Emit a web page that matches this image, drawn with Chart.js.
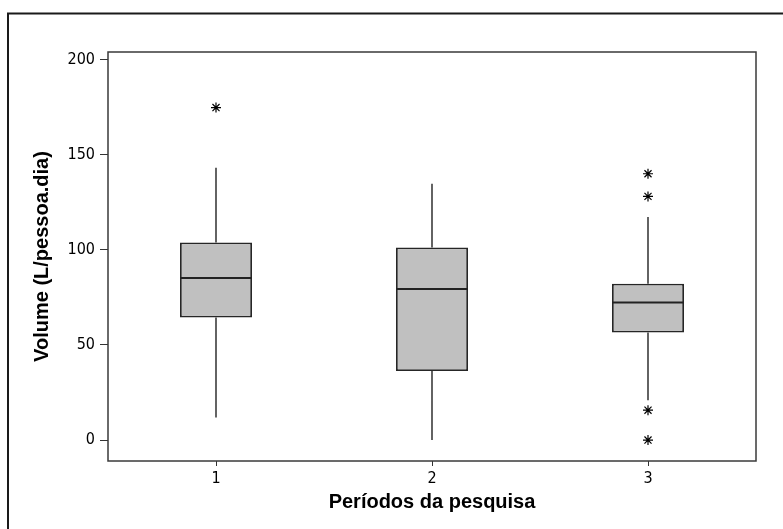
<!DOCTYPE html>
<html>
<head>
<meta charset="utf-8">
<script src="https://cdn.jsdelivr.net/npm/chart.js@4.4.0/dist/chart.umd.min.js"></script>
<style>
	body { margin: 0; background: #fff; }
	#wrap { width: 783px; height: 529px; position: relative; }
</style>
</head>
<body>
<div id="wrap"><canvas id="boxChart"></canvas></div>
<script>
// Volume por período: quartis, bigodes e pontos atípicos
const periods = [1, 2, 3];
const q1 = [64.4, 36.3, 56.5];
const median = [85.2, 79.4, 72.3];
const q3 = [103.9, 101.2, 82.2];
const whiskerLow = [11.9, 0, 21.0];
const whiskerHigh = [143.2, 134.8, 117.2];
const outliers = [[174.8], [], [140.0, 128.1, 15.7, 0]];
const yTicks = [0, 50, 100, 150, 200];

const boxHalf = 1 / 6;
const tickFont = { family: "'DejaVu Sans Condensed', 'Liberation Sans', sans-serif", size: 16 };
const titleFont = { family: "'Liberation Sans', Arial, sans-serif", size: 20, weight: 'bold' };

const whiskerPts = [];
const medianPts = [];
periods.forEach((p, i) => {
	whiskerPts.push({ x: p, y: q3[i] }, { x: p, y: whiskerHigh[i] }, { x: p, y: null });
	whiskerPts.push({ x: p, y: whiskerLow[i] }, { x: p, y: q1[i] }, { x: p, y: null });
	medianPts.push({ x: p - boxHalf, y: median[i] }, { x: p + boxHalf, y: median[i] }, { x: p, y: null });
});
const outlierPts = [];
outliers.forEach((list, i) => list.forEach(v => outlierPts.push({ x: periods[i], y: v })));

// moldura externa e contorno da área do gráfico
const frames = {
	id: 'frames',
	beforeDraw(chart) {
		const c = chart.ctx;
		c.save();
		c.strokeStyle = '#1a1a1a';
		c.lineWidth = 2;
		c.strokeRect(8, 13.5, chart.width + 20, chart.height + 20);
		c.restore();
	},
	afterDraw(chart) {
		const a = chart.chartArea;
		const c = chart.ctx;
		c.save();
		c.strokeStyle = '#3a3a3a';
		c.lineWidth = 1.5;
		c.strokeRect(a.left, a.top, a.right - a.left, a.bottom - a.top);
		c.restore();
	}
};

const ctx = document.getElementById('boxChart').getContext('2d');
new Chart(ctx, {
	type: 'bar',
	data: {
		datasets: [
			{
				type: 'line',
				label: 'Mediana',
				data: medianPts,
				borderColor: '#222',
				borderWidth: 2,
				pointRadius: 0,
				spanGaps: false,
				order: 0
			},
			{
				type: 'scatter',
				label: 'Atípicos',
				data: outlierPts,
				pointStyle: 'star',
				pointRadius: 5,
				borderColor: '#000',
				borderWidth: 1.2,
				order: 1
			},
			{
				label: 'Caixa',
				data: periods.map((p, i) => ({ x: p, y: [q1[i], q3[i]] })),
				backgroundColor: '#c0c0c0',
				borderColor: '#262626',
				borderWidth: 1.8,
				borderSkipped: false,
				categoryPercentage: 1,
				barPercentage: 1 / 3,
				order: 2
			},
			{
				type: 'line',
				label: 'Bigodes',
				data: whiskerPts,
				borderColor: '#111',
				borderWidth: 1.3,
				pointRadius: 0,
				spanGaps: false,
				order: 3
			}
		]
	},
	options: {
		responsive: true,
		maintainAspectRatio: false,
		animation: false,
		layout: { padding: { top: 52, right: 27, left: 0, bottom: 0 } },
		plugins: {
			legend: { display: false },
			tooltip: { enabled: false }
		},
		scales: {
			x: {
				type: 'linear',
				min: 0.5,
				max: 3.5,
				offset: false,
				afterBuildTicks: s => { s.ticks = periods.map(v => ({ value: v })); },
				afterFit: s => { s.height = 68; },
				border: { display: false },
				grid: { offset: false, drawOnChartArea: false, drawTicks: true, tickLength: 5, color: '#333', lineWidth: 1 },
				ticks: { color: '#000', font: tickFont, padding: 3, maxRotation: 0 },
				title: { display: true, text: 'Períodos da pesquisa', color: '#000', font: titleFont, padding: { top: 0, bottom: 15 } }
			},
			y: {
				min: -11,
				max: 204,
				afterBuildTicks: s => { s.ticks = yTicks.map(v => ({ value: v })); },
				afterFit: s => { s.width = 108; },
				border: { display: false },
				grid: { drawOnChartArea: false, drawTicks: true, tickLength: 8, color: '#333', lineWidth: 1 },
				ticks: { color: '#000', font: tickFont, padding: 5 },
				title: { display: true, text: 'Volume (L/pessoa.dia)', color: '#000', font: titleFont, padding: { top: 30, bottom: 0 } }
			}
		}
	},
	plugins: [frames]
});
</script>
</body>
</html>
